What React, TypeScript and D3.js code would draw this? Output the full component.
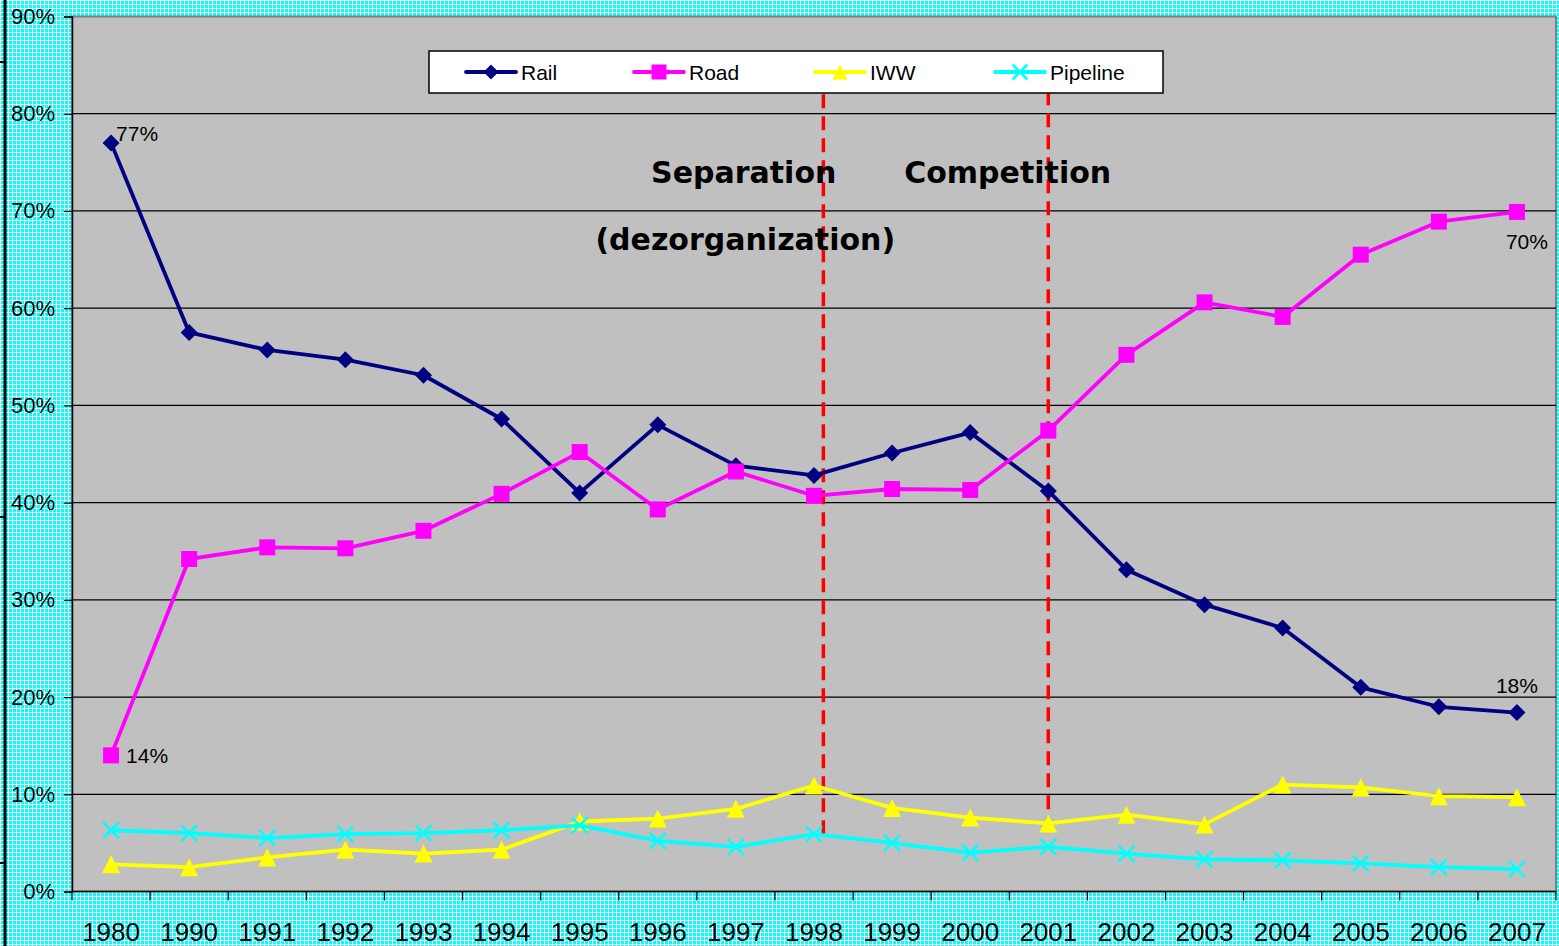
import { useEffect, useRef } from "react";
import * as d3 from "d3";

const years = ["1980", "1990", "1991", "1992", "1993", "1994", "1995", "1996", "1997", "1998", "1999", "2000", "2001", "2002", "2003", "2004", "2005", "2006", "2007"];

const rail = [77.0, 57.5, 55.7, 54.7, 53.1, 48.6, 41.0, 48.0, 43.8, 42.8, 45.1, 47.2, 41.2, 33.1, 29.5, 27.1, 21.0, 19.0, 18.4];
const road = [14.0, 34.2, 35.4, 35.3, 37.1, 40.9, 45.2, 39.3, 43.2, 40.7, 41.4, 41.3, 47.4, 55.2, 60.6, 59.1, 65.5, 68.9, 69.9];
const iww = [2.8, 2.5, 3.5, 4.3, 3.9, 4.3, 7.2, 7.5, 8.5, 10.9, 8.6, 7.6, 7.0, 7.9, 6.9, 11.0, 10.7, 9.8, 9.7];
const pipeline = [6.3, 6.0, 5.5, 5.9, 6.0, 6.3, 6.8, 5.2, 4.6, 5.9, 5.0, 4.0, 4.6, 3.9, 3.3, 3.2, 2.9, 2.5, 2.3];

const yTicks = [0, 10, 20, 30, 40, 50, 60, 70, 80, 90];

const seriesNames = ["Rail", "Road", "IWW", "Pipeline"];
const seriesColors = ["#000080", "#FF00FF", "#FFFF00", "#00FFFF"];
const seriesMarkers = ["diamond", "square", "triangle", "cross"];

// phase separators: continuous category index, bottom value, top value
const phaseLines = [
  { at: 9.12, from: 5.9, to: 84 },
  { at: 12.0, from: 6.2, to: 84 },
];

// phase captions: continuous category index (centre), baseline value
const phaseLabels = [
  { text: "Separation", at: 8.1, value: 72.9 },
  { text: "Competition", at: 11.48, value: 72.9 },
  { text: "(dezorganization)", at: 8.12, value: 66.0 },
];

// end-point value labels
const valueLabels = [
  { text: "77%", series: 0, index: 0, dx: 5, dy: -2, anchor: "start" },
  { text: "14%", series: 1, index: 0, dx: 15, dy: 8, anchor: "start" },
  { text: "70%", series: 1, index: 18, dx: 10, dy: 37, anchor: "middle" },
  { text: "18%", series: 0, index: 18, dx: 0, dy: -20, anchor: "middle" },
];

const W = 1559;
const H = 946;

function markerPath(kind: string, s: number) {
  const h = s / 2;
  if (kind === "diamond") return `M0,${-h}L${h},0L0,${h}L${-h},0Z`;
  if (kind === "square") return `M${-h},${-h}H${h}V${h}H${-h}Z`;
  if (kind === "triangle") return `M0,${-h}L${h},${h}L${-h},${h}Z`;
  return `M${-h},${-h}L${h},${h}M${h},${-h}L${-h},${h}`;
}

function drawMarker(g: d3.Selection<SVGGElement, unknown, null, undefined>, kind: string, color: string, x: number, y: number, s: number) {
  const p = g.append("path")
    .attr("transform", `translate(${x},${y})`)
    .attr("d", markerPath(kind, s));
  if (kind === "cross") {
    p.attr("fill", "none").attr("stroke", color).attr("stroke-width", 2.5);
  } else {
    p.attr("fill", color);
  }
}

export default function App() {
  const svgRef = useRef<SVGSVGElement>(null);

  useEffect(() => {
    if (!svgRef.current) return;
    const svg = d3.select(svgRef.current);
    svg.selectAll("*").remove();

    const left = 72, right = 1556, top = 16.5, bottom = 891.5;

    const x = d3.scaleBand<string>().domain(years).range([left, right]).padding(0);
    const bw = x.bandwidth();
    const cx = (i: number) => left + bw * (i + 0.5);
    const y = d3.scaleLinear().domain([0, 90]).range([bottom, top]);

    // background pattern (cyan with white grid)
    const defs = svg.append("defs");
    const pat = defs.append("pattern")
      .attr("id", "bgpat")
      .attr("width", 4)
      .attr("height", 4)
      .attr("patternUnits", "userSpaceOnUse");
    pat.append("rect").attr("width", 4).attr("height", 4).attr("fill", "#00FFFF");
    pat.append("rect").attr("width", 4).attr("height", 1).attr("fill", "#FFFFFF");
    pat.append("rect").attr("width", 1).attr("height", 4).attr("fill", "#FFFFFF");

    svg.append("rect").attr("width", W).attr("height", H).attr("fill", "url(#bgpat)");

    // slide edge line at far left
    svg.append("rect").attr("x", 3.5).attr("y", 0).attr("width", 3).attr("height", H).attr("fill", "#000");
    [62, 517, 863].forEach(ty => {
      svg.append("rect").attr("x", 0).attr("y", ty - 1).attr("width", 5).attr("height", 2).attr("fill", "#000");
    });

    // plot area
    svg.append("rect")
      .attr("x", left).attr("y", top)
      .attr("width", right - left).attr("height", bottom - top)
      .attr("fill", "#C0C0C0")
      .attr("stroke", "#808080")
      .attr("stroke-width", 2);

    // grid lines
    svg.append("g")
      .selectAll("line")
      .data(yTicks.filter(t => t > 0 && t < 90))
      .join("line")
      .attr("x1", left).attr("x2", right)
      .attr("y1", d => y(d)).attr("y2", d => y(d))
      .attr("stroke", "#000").attr("stroke-width", 1.2);

    // y axis
    const yAxis = d3.axisLeft(y).tickValues(yTicks).tickSize(8).tickPadding(9).tickFormat(d => `${d}%`);
    svg.append("g")
      .attr("transform", `translate(${left},0)`)
      .call(yAxis)
      .call(g => g.select(".domain").attr("stroke", "#000").attr("stroke-width", 1.5))
      .call(g => g.selectAll(".tick line").attr("stroke", "#000").attr("stroke-width", 1.2))
      .call(g => g.selectAll(".tick text")
        .attr("fill", "#000")
        .attr("font-family", "'Liberation Sans', Arial, sans-serif")
        .attr("font-size", "22px"));

    // x axis
    const xAxis = d3.axisBottom(x).tickSize(0).tickPadding(40);
    const xg = svg.append("g")
      .attr("transform", `translate(0,${bottom})`)
      .call(xAxis)
      .call(g => g.select(".domain").attr("stroke", "#000").attr("stroke-width", 1.5).attr("d", `M${left},0H${right}`))
      .call(g => g.selectAll(".tick text")
        .attr("fill", "#000")
        .attr("font-family", "'Liberation Sans', Arial, sans-serif")
        .attr("font-size", "26px")
        .attr("dy", "0.35em"));
    xg.append("g")
      .selectAll("line")
      .data(d3.range(years.length + 1))
      .join("line")
      .attr("x1", i => left + bw * i).attr("x2", i => left + bw * i)
      .attr("y1", 0).attr("y2", 9)
      .attr("stroke", "#000").attr("stroke-width", 1.2);

    // phase separator lines
    svg.append("g")
      .selectAll("line")
      .data(phaseLines)
      .join("line")
      .attr("x1", d => cx(d.at)).attr("x2", d => cx(d.at))
      .attr("y1", d => y(d.from)).attr("y2", d => y(d.to))
      .attr("stroke", "#FF0000")
      .attr("stroke-width", 3.5)
      .attr("stroke-dasharray", "14,8");

    // phase captions
    svg.append("g")
      .selectAll("text")
      .data(phaseLabels)
      .join("text")
      .attr("x", d => cx(d.at))
      .attr("y", d => y(d.value))
      .attr("text-anchor", "middle")
      .attr("font-family", "'DejaVu Sans', Verdana, sans-serif")
      .attr("font-weight", "bold")
      .attr("font-size", "30px")
      .attr("fill", "#000")
      .text(d => d.text);

    // series
    const data = [rail, road, iww, pipeline];
    const line = d3.line<number>().x((_, i) => cx(i)).y(d => y(d));
    const sizes = [17, 16, 18, 16];
    data.forEach((vals, si) => {
      const g = svg.append("g");
      g.append("path")
        .attr("d", line(vals))
        .attr("fill", "none")
        .attr("stroke", seriesColors[si])
        .attr("stroke-width", 3.8)
        .attr("stroke-linejoin", "round");
      vals.forEach((v, i) => drawMarker(g, seriesMarkers[si], seriesColors[si], cx(i), y(v), sizes[si]));
    });

    // value labels
    svg.append("g")
      .selectAll("text")
      .data(valueLabels)
      .join("text")
      .attr("x", d => cx(d.index) + d.dx)
      .attr("y", d => y(data[d.series][d.index]) + d.dy)
      .attr("text-anchor", d => d.anchor)
      .attr("font-family", "'Liberation Sans', Arial, sans-serif")
      .attr("font-size", "21px")
      .attr("fill", "#000")
      .text(d => d.text);

    // legend
    const lg = svg.append("g");
    lg.append("rect")
      .attr("x", 429).attr("y", 51).attr("width", 734).attr("height", 42)
      .attr("fill", "#FFFFFF").attr("stroke", "#000").attr("stroke-width", 1.5);
    const legendX = [466, 634, 815, 995];
    seriesNames.forEach((name, si) => {
      const lx = legendX[si];
      const item = lg.append("g");
      item.append("line")
        .attr("x1", lx).attr("x2", lx + 50)
        .attr("y1", 72).attr("y2", 72)
        .attr("stroke", seriesColors[si]).attr("stroke-width", 3.8).attr("stroke-linecap", "round");
      drawMarker(item, seriesMarkers[si], seriesColors[si], lx + 25, 72, 15);
      item.append("text")
        .attr("x", lx + 55).attr("y", 80)
        .attr("font-family", "'Liberation Sans', Arial, sans-serif")
        .attr("font-size", "21px")
        .attr("fill", "#000")
        .text(name);
    });
  }, []);

  return (
    <svg
      ref={svgRef}
      width={W}
      height={H}
      style={{ position: "absolute", left: 0, top: 0, display: "block" }}
    />
  );
}
